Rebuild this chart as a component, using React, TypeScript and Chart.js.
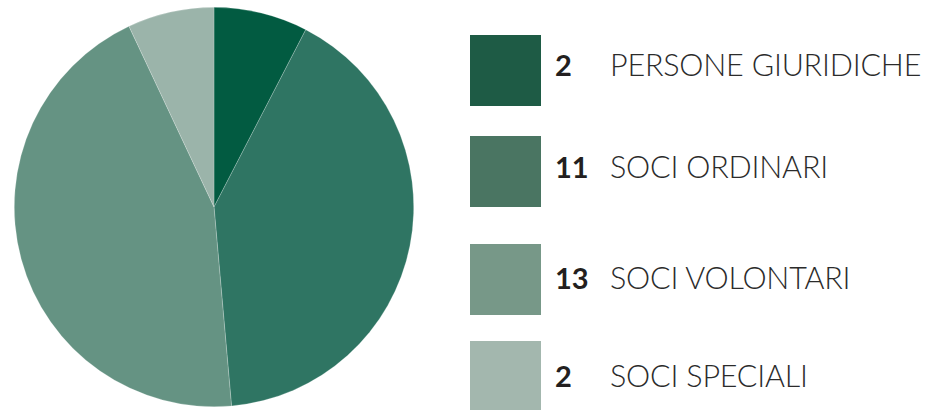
import React, { useEffect, useRef } from "react";
import { Chart, registerables } from "chart.js";

Chart.register(...registerables);

const categories = ["PERSONE GIURIDICHE", "SOCI ORDINARI", "SOCI VOLONTARI", "SOCI SPECIALI"];
const memberCounts = [2, 11, 13, 2];
// slice shares (percent of the circle) as drawn in the reference pie
const sliceShares = [7.6, 41.0, 44.4, 7.0];

const sliceColors = ["#025b41", "#2f7563", "#659383", "#9bb4aa"];
const legendColors = ["#1e5b45", "#4a7562", "#779888", "#a3b7ae"];
const legendTops = [35, 136, 244, 341];
const textCenters = [63.5, 166, 277, 374.5];

export default function App() {
  const canvasRef = useRef<HTMLCanvasElement | null>(null);

  useEffect(() => {
    if (!canvasRef.current) return;
    const chart = new Chart(canvasRef.current, {
      type: "pie",
      data: {
        labels: categories,
        datasets: [
          {
            data: sliceShares,
            backgroundColor: sliceColors,
            borderColor: "rgba(255,255,255,0.35)",
            borderWidth: 0.6,
          },
        ],
      },
      options: {
        responsive: false,
        animation: false,
        maintainAspectRatio: false,
        layout: { padding: 0 },
        plugins: {
          legend: { display: false },
          tooltip: { enabled: false },
        },
      },
    });
    return () => chart.destroy();
  }, []);

  return (
    <div
      style={{
        position: "absolute",
        left: 0,
        top: 0,
        width: 926,
        height: 410,
        background: "#ffffff",
        overflow: "hidden",
      }}
    >
      <canvas
        ref={canvasRef}
        width={400}
        height={400}
        style={{ position: "absolute", left: 14, top: 7, width: 400, height: 400 }}
      />
      {categories.map((label, i) => (
        <React.Fragment key={label}>
          <div
            style={{
              position: "absolute",
              left: 470,
              top: legendTops[i],
              width: 71,
              height: 71,
              background: legendColors[i],
            }}
          />
          <div
            style={{
              position: "absolute",
              left: 555,
              top: textCenters[i],
              transform: "translateY(-50%)",
              fontFamily: "Lato, 'Noto Sans', sans-serif",
              fontWeight: 700,
              fontSize: 29,
              lineHeight: 1,
              color: "#231f20",
              whiteSpace: "nowrap",
            }}
          >
            {memberCounts[i]}
          </div>
          <div
            style={{
              position: "absolute",
              left: 610,
              top: textCenters[i],
              transform: "translateY(-50%)",
              fontFamily: "Lato, 'Noto Sans', sans-serif",
              fontWeight: 300,
              fontSize: 30.5,
              letterSpacing: -0.2,
              lineHeight: 1,
              color: "#2b2b2b",
              whiteSpace: "nowrap",
            }}
          >
            {label}
          </div>
        </React.Fragment>
      ))}
    </div>
  );
}
